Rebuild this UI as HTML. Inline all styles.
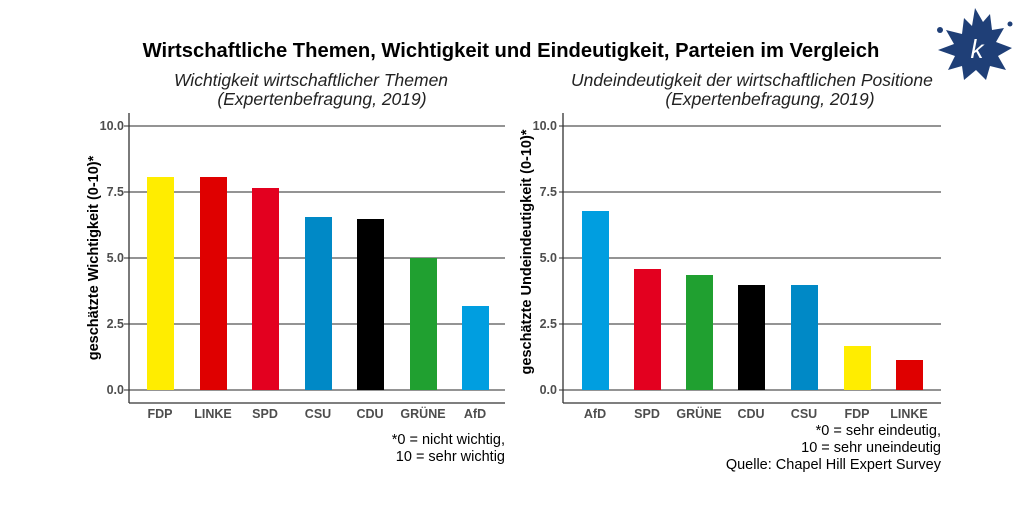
<!DOCTYPE html>
<html><head><meta charset="utf-8"><style>
body{margin:0;background:#fff;}
svg text{font-family:"Liberation Sans",sans-serif;}
</style></head><body>
<svg width="1024" height="520" xmlns="http://www.w3.org/2000/svg">
<rect width="1024" height="520" fill="#fff"/>
<text x="511" y="57" text-anchor="middle" font-size="20.2" font-weight="bold" fill="#000">Wirtschaftliche Themen, Wichtigkeit und Eindeutigkeit, Parteien im Vergleich</text>
<text x="311" y="86" text-anchor="middle" font-size="17.5" font-style="italic" fill="#222">Wichtigkeit wirtschaftlicher Themen</text>
<text x="322" y="105" text-anchor="middle" font-size="17.5" font-style="italic" fill="#222">(Expertenbefragung, 2019)</text>
<text x="571" y="86" font-size="17.5" font-style="italic" fill="#222">Undeindeutigkeit der wirtschaftlichen Positione</text>
<text x="770" y="105" text-anchor="middle" font-size="17.5" font-style="italic" fill="#222">(Expertenbefragung, 2019)</text>
<g stroke="#555" stroke-width="1.2">
<line x1="124" x2="505" y1="126" y2="126"/><line x1="124" x2="505" y1="192" y2="192"/><line x1="124" x2="505" y1="258" y2="258"/><line x1="124" x2="505" y1="324" y2="324"/><line x1="124" x2="505" y1="390" y2="390"/>
<line x1="559" x2="941" y1="126" y2="126"/><line x1="559" x2="941" y1="192" y2="192"/><line x1="559" x2="941" y1="258" y2="258"/><line x1="559" x2="941" y1="324" y2="324"/><line x1="559" x2="941" y1="390" y2="390"/>
</g>
<g>
<rect x="147" y="177" width="27" height="213" fill="#ffed00"/>
<rect x="200" y="177" width="27" height="213" fill="#df0000"/>
<rect x="252" y="188" width="27" height="202" fill="#e3001f"/>
<rect x="305" y="217" width="27" height="173" fill="#0089c6"/>
<rect x="357" y="219" width="27" height="171" fill="#000"/>
<rect x="410" y="258" width="27" height="132" fill="#20a030"/>
<rect x="462" y="306" width="27" height="84" fill="#009ee0"/>
<rect x="582" y="211" width="27" height="179" fill="#009ee0"/>
<rect x="634" y="269" width="27" height="121" fill="#e3001f"/>
<rect x="686" y="275" width="27" height="115" fill="#20a030"/>
<rect x="738" y="285" width="27" height="105" fill="#000"/>
<rect x="791" y="285" width="27" height="105" fill="#0089c6"/>
<rect x="844" y="346" width="27" height="44" fill="#ffed00"/>
<rect x="896" y="360" width="27" height="30" fill="#df0000"/>
</g>
<g stroke="#333" stroke-width="1.3">
<line x1="129" x2="129" y1="113" y2="403"/><line x1="129" x2="505" y1="403" y2="403"/>
<line x1="563" x2="563" y1="113" y2="403"/><line x1="563" x2="941" y1="403" y2="403"/>
</g>
<g font-size="12.5" font-weight="bold" fill="#4d4d4d" text-anchor="end">
<text x="124" y="130">10.0</text><text x="124" y="196">7.5</text><text x="124" y="262">5.0</text><text x="124" y="328">2.5</text><text x="124" y="394">0.0</text>
<text x="557" y="130">10.0</text><text x="557" y="196">7.5</text><text x="557" y="262">5.0</text><text x="557" y="328">2.5</text><text x="557" y="394">0.0</text>
</g>
<g font-size="12.5" font-weight="bold" fill="#4d4d4d" text-anchor="middle">
<text x="160" y="418">FDP</text><text x="213" y="418">LINKE</text><text x="265" y="418">SPD</text><text x="318" y="418">CSU</text><text x="370" y="418">CDU</text><text x="423" y="418">GRÜNE</text><text x="475" y="418">AfD</text>
<text x="595" y="418">AfD</text><text x="647" y="418">SPD</text><text x="699" y="418">GRÜNE</text><text x="751" y="418">CDU</text><text x="804" y="418">CSU</text><text x="857" y="418">FDP</text><text x="909" y="418">LINKE</text>
</g>
<text transform="translate(98,258) rotate(-90)" text-anchor="middle" font-size="14.5" font-weight="bold" fill="#000">geschätzte Wichtigkeit (0-10)*</text>
<text transform="translate(531,252) rotate(-90)" text-anchor="middle" font-size="14.5" font-weight="bold" fill="#000">geschätzte Undeindeutigkeit (0-10)*</text>
<g font-size="14.5" fill="#000" text-anchor="end">
<text x="505" y="444">*0 = nicht wichtig,</text><text x="505" y="461">10 = sehr wichtig</text>
<text x="941" y="435">*0 = sehr eindeutig,</text><text x="941" y="452">10 = sehr uneindeutig</text><text x="941" y="469">Quelle: Chapel Hill Expert Survey</text>
</g>
<g fill="#1f3f77">
<path d="M975,8 L983,22 L990,14 L992,30 L1004,28 L996,42 L1012,48 L998,56 L1006,70 L990,66 L986,80 L976,70 L964,80 L962,66 L948,70 L955,56 L938,50 L954,44 L946,30 L962,34 L964,18 L972,26 Z"/>
<circle cx="940" cy="30" r="3"/><circle cx="1010" cy="24" r="2.5"/>
</g>
<text x="977" y="58" text-anchor="middle" font-size="26" font-style="italic" fill="#fff" font-family="Liberation Serif,serif">k</text>
</svg>
</body></html>
